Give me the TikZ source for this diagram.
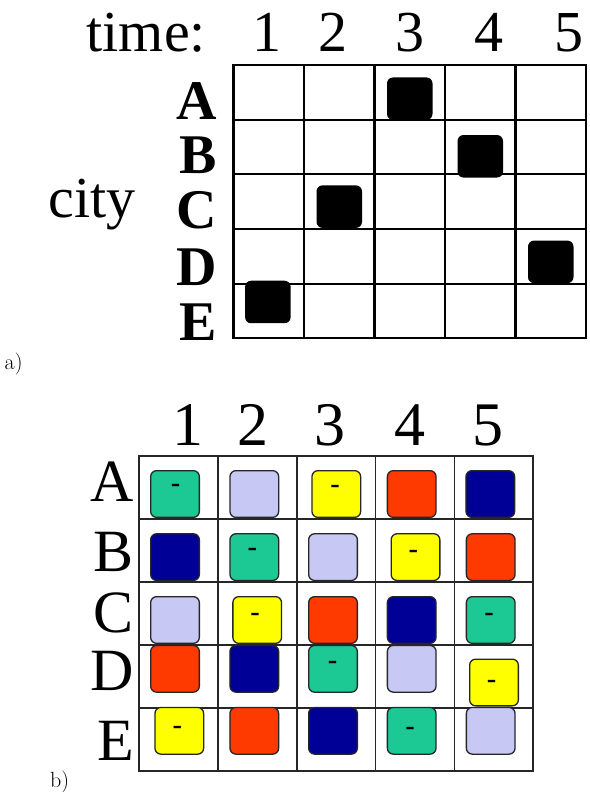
\documentclass[tikz,border=0pt]{standalone}
\usepackage{fontspec}
\newfontfamily\tmsfont{Liberation Serif}
\newfontfamily\arlfont{Liberation Sans}
\usepackage{tikz}
\usetikzlibrary{positioning,calc,matrix}
\usepackage{xcolor}
\definecolor{cteal}{RGB}{28,200,148}
\definecolor{clav}{RGB}{200,200,245}
\definecolor{cyel}{RGB}{255,255,0}
\definecolor{cred}{RGB}{255,58,0}
\definecolor{cnavy}{RGB}{0,0,150}

\begin{document}
\begin{tikzpicture}[x=1pt,y=-1pt,
    lbla/.style={inner sep=0pt,font=\tmsfont\fontsize{58}{58}\selectfont},
    rowa/.style={inner sep=0pt,anchor=base east,font=\tmsfont\bfseries\fontsize{56}{56}\selectfont},
    lblb/.style={inner sep=0pt,anchor=base,font=\tmsfont\fontsize{62}{62}\selectfont},
    rowb/.style={inner sep=0pt,anchor=base east,font=\tmsfont\fontsize{60}{60}\selectfont},
    tag/.style={inner sep=0pt,anchor=base west,font=\fontsize{22}{22}\selectfont},
    blk/.style={fill=black,rounded corners=6pt,minimum width=45.5pt,minimum height=42.5pt,inner sep=0pt},
    cbox/.style={draw=black!85,line width=1.3pt,rounded corners=6pt,minimum width=48.7pt,minimum height=46.7pt,inner sep=0pt},
    hyph/.style={inner sep=0pt,anchor=base,font=\arlfont\fontsize{30}{30}\selectfont}]
\useasboundingbox (0,0) rectangle (589,792);

% a)
\node (ttl) at (86.5,51.7) [lbla,anchor=base west] {time:};
\node (ta1) at (267.4,51.7) [lbla,anchor=base] {1};
\node (ta2) at (333.4,51.7) [lbla,anchor=base] {2};
\node (ta3) at (409.6,51.7) [lbla,anchor=base] {3};
\node (ta4) at (488.7,51.7) [lbla,anchor=base] {4};
\node (ta5) at (568.5,51.7) [lbla,anchor=base] {5};
\node (city) at (48.5,217.4) [lbla,anchor=base west] {city};
\node (ra1) at (217,119.6) [rowa] {A};
\node (ra2) at (217,173.3) [rowa] {B};
\node (ra3) at (217,228) [rowa] {C};
\node (ra4) at (217,285.3) [rowa] {D};
\node (ra5) at (217,340.9) [rowa] {E};
\matrix (ga) [matrix of nodes, nodes in empty cells, line width=2.2pt,
    nodes={draw,line width=2.2pt,minimum width=70.5pt,minimum height=54.66pt,inner sep=0pt},
    column sep=-2.2pt, row sep=-2.2pt] at (409.75,201.65)
{
 &&&& \\
 &&&& \\
 &&&& \\
 &&&& \\
 &&&& \\
};
\node (kA3) [blk,anchor=south] at ([yshift=0.6pt]ga-1-3.south) {};
\node (kB4) [blk,anchor=south] at ([yshift=-2.3pt]ga-2-4.south) {};
\node (kC2) [blk,anchor=south] at ([yshift=2pt]ga-3-2.south) {};
\node (kD5) [blk,anchor=south] at ([yshift=1.4pt]ga-4-5.south) {};
\node (kE1) [blk,anchor=north] at ([xshift=-0.9pt,yshift=2pt]ga-5-1.north) {};
\node (taga) at (4.5,369) [tag] {a)};

% b)
\node (tb1) at (188,445) [lblb] {1};
\node (tb2) at (252.5,445) [lblb] {2};
\node (tb3) at (330,445) [lblb] {3};
\node (tb4) at (410,445) [lblb] {4};
\node (tb5) at (488,445) [lblb] {5};
\node (rb1) at (134,501.7) [rowb] {A};
\node (rb2) at (134,571.7) [rowb] {B};
\node (rb3) at (134,632.4) [rowb] {C};
\node (rb4) at (134,690) [rowb] {D};
\node (rb5) at (134,760) [rowb] {E};
\matrix (gb) [matrix of nodes, nodes in empty cells, line width=1.6pt,
    nodes={draw=black!85,line width=1.6pt,minimum width=78.85pt,minimum height=63pt,inner sep=0pt},
    column sep=-1.6pt, row sep=-1.6pt] at (336.15,613.2)
{
 &&&& \\
 &&&& \\
 &&&& \\
 &&&& \\
 &&&& \\
};
\node (bA1) [cbox,fill=cteal] at (175,494) {};
\node (bA2) [cbox,fill=clav] at (254.3,494) {};
\node (bA3) [cbox,fill=cyel] at (336.3,494) {};
\node (bA4) [cbox,fill=cred] at (411.7,494) {};
\node (bA5) [cbox,fill=cnavy] at (490.3,494) {};
\node (bB1) [cbox,fill=cnavy] at (175,557.1) {};
\node (bB2) [cbox,fill=cteal] at (254.3,557.1) {};
\node (bB3) [cbox,fill=clav] at (333,557.1) {};
\node (bB4) [cbox,fill=cyel] at (415.5,557.1) {};
\node (bB5) [cbox,fill=cred] at (490.7,557.1) {};
\node (bC1) [cbox,fill=clav] at (175,620) {};
\node (bC2) [cbox,fill=cyel] at (257.2,620) {};
\node (bC3) [cbox,fill=cred] at (333,620) {};
\node (bC4) [cbox,fill=cnavy] at (411.7,620) {};
\node (bC5) [cbox,fill=cteal] at (490.7,620) {};
\node (bD1) [cbox,fill=cred] at (175,668.8) {};
\node (bD2) [cbox,fill=cnavy] at (254.3,668.8) {};
\node (bD3) [cbox,fill=cteal] at (333,668.8) {};
\node (bD4) [cbox,fill=clav] at (411.7,668.8) {};
\node (bD5) [cbox,fill=cyel] at (494,682.5) {};
\node (bE1) [cbox,fill=cyel] at (179.3,730.8) {};
\node (bE2) [cbox,fill=cred] at (254.3,730.8) {};
\node (bE3) [cbox,fill=cnavy] at (333,730.8) {};
\node (bE4) [cbox,fill=cteal] at (411.7,730.8) {};
\node (bE5) [cbox,fill=clav] at (490.7,730.8) {};
\node (mA1) [hyph] at (175.7,493) {-};
\node (mA3) [hyph] at (335,494.7) {-};
\node (mB2) [hyph] at (252.3,557) {-};
\node (mB4) [hyph] at (413.3,559) {-};
\node (mC2) [hyph] at (255,622) {-};
\node (mC5) [hyph] at (489,622) {-};
\node (mD3) [hyph] at (332.7,670.3) {-};
\node (mD5) [hyph] at (491.7,689.7) {-};
\node (mE1) [hyph] at (177.3,735.3) {-};
\node (mE4) [hyph] at (410,736.3) {-};
\node (tagb) at (50,787) [tag] {b)};
\end{tikzpicture}
\end{document}
